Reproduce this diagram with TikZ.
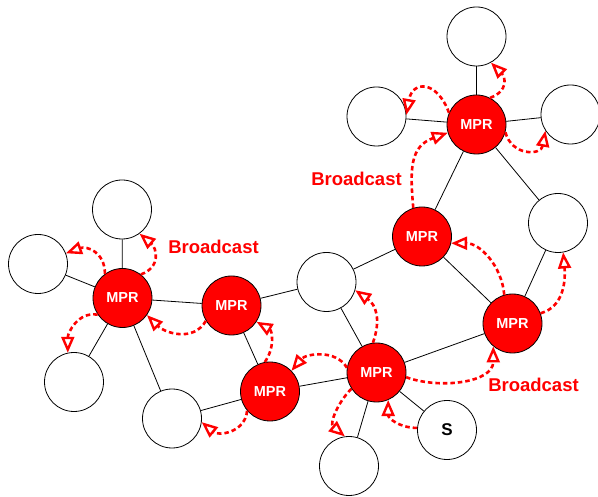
\documentclass[tikz,border=0pt]{standalone}
\usepackage{fontspec}
\setmainfont{Liberation Sans}
\usetikzlibrary{arrows.meta}
\begin{document}
\begin{tikzpicture}[x=1pt,y=1pt,
  station/.style={circle,draw=black,line width=0.8pt,fill=white,minimum size=59pt,inner sep=0pt},
  mpr/.style={station,fill=red,text=white,font=\bfseries\fontsize{14.5}{14.5}\selectfont},
  link/.style={draw=black,line width=0.8pt},
  bcast/.style={red,line width=2.6pt,dash pattern=on 4.5pt off 3pt,
    -{Triangle[open,length=16pt,width=13pt,line width=2.4pt]}},
  bclabel/.style={text=red,font=\bfseries\fontsize{18.5}{18.5}\selectfont,inner sep=0pt}]
\useasboundingbox (0,-497) rectangle (598,0);

% ordinary stations
\node[station] (A) at (476.5,-36.5) {};
\node[station] (B) at (376.5,-116.5) {};
\node[station] (C) at (570.5,-114.5) {};
\node[station] (D) at (558,-223) {};
\node[station] (E) at (122,-209.5) {};
\node[station] (F) at (38,-264) {};
\node[station] (G) at (326.5,-282) {};
\node[station] (H) at (74,-382) {};
\node[station] (I) at (172,-418.5) {};
\node[station] (J) at (349,-466) {};
\node[station,font=\bfseries\fontsize{17}{17}\selectfont] (S) at (447,-430) {S};

% multipoint relays
\node[mpr] (M1) at (476.5,-124.5) {MPR};
\node[mpr] (M2) at (422,-236.5) {MPR};
\node[mpr] (M3) at (122.5,-298) {MPR};
\node[mpr] (M4) at (231.5,-305.5) {MPR};
\node[mpr] (M5) at (512.5,-323.5) {MPR};
\node[mpr] (M6) at (376.5,-372.5) {MPR};
\node[mpr] (M7) at (270,-391.5) {MPR};

% radio links
\draw[link] (A) -- (M1);
\draw[link] (B) -- (M1);
\draw[link] (C) -- (M1);
\draw[link] (M1) -- (M2);
\draw[link] (M1) -- (D);
\draw[link] (D) -- (M5);
\draw[link] (M2) -- (M5);
\draw[link] (M2) -- (G);
\draw[link] (G) -- (M4);
\draw[link] (G) -- (M6);
\draw[link] (M6) -- (M5);
\draw[link] (M6) -- (M7);
\draw[link] (M6) -- (J);
\draw[link] (M6) -- (S);
\draw[link] (M7) -- (M4);
\draw[link] (M7) -- (I);
\draw[link] (M4) -- (M3);
\draw[link] (M3) -- (E);
\draw[link] (M3) -- (F);
\draw[link] (M3) -- (H);
\draw[link] (M3) -- (I);

% broadcast forwarding
\draw[bcast] (M1.63) to[out=20,in=-45,distance=20pt] (A.-61);
\draw[bcast] (M1.157) to[out=110,in=80,distance=35pt] (B.3);
\draw[bcast] (M1.-15) to[out=-75,in=-100,distance=25pt] (C.-147);
\draw[bcast] (M2.107) to[out=95,in=200,distance=40pt] (M1.196);
\draw[bcast] (M3.126) to[out=90,in=20,distance=22pt] (F.21);
\draw[bcast] (M3.52) to[out=20,in=-40,distance=22pt] (E.-54);
\draw[bcast] (M3.-146) to[out=170,in=90,distance=20pt] (H.102);
\draw[bcast] (M4.-149) to[out=-120,in=-45,distance=25pt] (M3.-35);
\draw[bcast] (M7.100) to[out=55,in=-30,distance=18pt] (M4.-33);
\draw[bcast] (M6.171) to[out=120,in=50,distance=22pt] (M7.44);
\draw[bcast] (M6.97) to[out=70,in=-35,distance=25pt] (G.-16);
\draw[bcast] (M6.-147) to[out=-135,in=140,distance=20pt] (J.98);
\draw[bcast] (S.176) to[out=180,in=-90,distance=18pt] (M6.-67);
\draw[bcast] (M6.-9) to[out=-20,in=-90] (M5.-130);
\draw[bcast] (M5.106) to[out=95,in=0] (M2.-13);
\draw[bcast] (M5.20) to[out=15,in=-85] (D.-80);
\draw[bcast] (M7.-140) to[out=-95,in=-40,distance=22pt] (I.-7);

% labels
\node[bclabel] (L1) at (356.5,-179) {Broadcast};
\node[bclabel] (L2) at (213.5,-246.5) {Broadcast};
\node[bclabel] (L3) at (533.5,-384.5) {Broadcast};
\end{tikzpicture}
\end{document}
